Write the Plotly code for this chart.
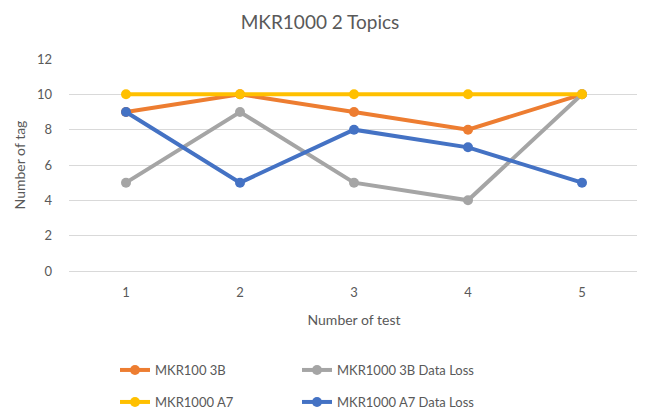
import plotly.graph_objects as go

tests = [1, 2, 3, 4, 5]
mkr100_3b = [9, 10, 9, 8, 10]
mkr1000_3b_loss = [5, 9, 5, 4, 10]
mkr1000_a7 = [10, 10, 10, 10, 10]
mkr1000_a7_loss = [9, 5, 8, 7, 5]

names = ["MKR100 3B", "MKR1000 3B Data Loss", "MKR1000 A7", "MKR1000 A7 Data Loss"]
colors = ["#ED7D31", "#A5A5A5", "#FFC000", "#4472C4"]
series = [mkr100_3b, mkr1000_3b_loss, mkr1000_a7, mkr1000_a7_loss]
legends = ["legend", "legend", "legend2", "legend2"]

# page has 8px body margin: figure drawn at (8,8)
OFF = 8
W, H = 645 - OFF, 412 - OFF
L, T = 69 - OFF, 59 - OFF
R = W - (639 - OFF)
B = H - (271 - OFF)
ph = H - T - B
pw = W - L - R

fig = go.Figure()
for name, col, ys, lg in zip(names, colors, series, legends):
    fig.add_trace(go.Scatter(
        x=tests, y=ys, name=name, mode="lines+markers",
        line=dict(color=col, width=4),
        marker=dict(color=col, size=10),
        legend=lg,
    ))

font_family = "Lato, Open Sans, sans-serif"
txt = "#595959"

def py(page_px):
    return (H - B - (page_px - OFF)) / ph

leg_x = (107 - L) / pw
common_leg = dict(orientation="h", x=leg_x, xanchor="left", yanchor="middle",
                  entrywidth=137, entrywidthmode="pixels",
                  font=dict(size=13, color=txt, family=font_family),
                  bgcolor="rgba(0,0,0,0)", traceorder="normal")

fig.update_layout(
    width=W, height=H,
    margin=dict(l=L, r=R, t=T, b=B, autoexpand=False),
    paper_bgcolor="white", plot_bgcolor="white",
    font=dict(family=font_family, color=txt, size=12),
    title=dict(text="MKR1000 2 Topics", x=(320 - OFF) / W, xanchor="center",
               y=1 - (22 - OFF) / H, yanchor="middle",
               font=dict(size=19, color=txt, family=font_family)),
    xaxis=dict(
        range=[0.5, 5.5], tickvals=tests, ticktext=[str(t) for t in tests],
        showgrid=False, zeroline=False, showline=False, ticks="",
        title=dict(text="Number of test", font=dict(size=14, color=txt), standoff=16),
        tickfont=dict(size=13, color=txt), ticklabelstandoff=12,
    ),
    yaxis=dict(
        range=[0, 12], dtick=2, showgrid=True, gridcolor="#D9D9D9", gridwidth=1,
        zeroline=True, zerolinecolor="#D9D9D9", zerolinewidth=1, showline=False, ticks="",
        title=dict(text="Number of tag", font=dict(size=14, color=txt), standoff=8),
        tickfont=dict(size=13, color=txt), ticklabelstandoff=16,
    ),
    legend=dict(y=py(370), **common_leg),
    legend2=dict(y=py(402), **common_leg),
)

fig.write_html("out.html")
